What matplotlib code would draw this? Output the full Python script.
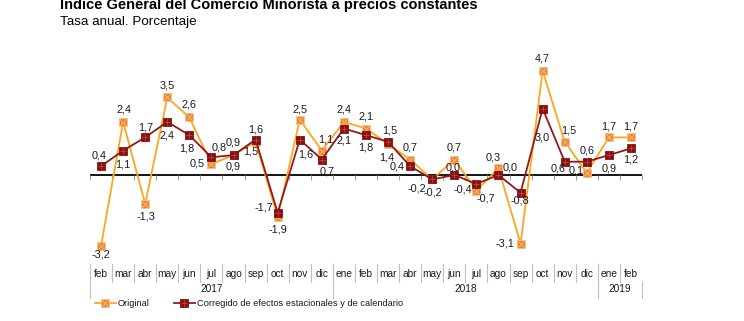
import matplotlib
matplotlib.use("Agg")
import matplotlib.pyplot as plt
from matplotlib.legend_handler import HandlerTuple
import numpy as np

plt.rcParams['font.family'] = ['Liberation Sans', 'DejaVu Sans']

months = ['feb', 'mar', 'abr', 'may', 'jun', 'jul', 'ago', 'sep', 'oct', 'nov', 'dic',
          'ene', 'feb', 'mar', 'abr', 'may', 'jun', 'jul', 'ago', 'sep', 'oct', 'nov', 'dic',
          'ene', 'feb']
years = ['2017', '2018', '2019']
year_counts = [11, 12, 2]

original = [-3.2, 2.4, -1.3, 3.5, 2.6, 0.5, 0.9, 1.5, -1.9, 2.5, 1.1,
            2.4, 2.1, 1.4, 0.7, -0.2, 0.7, -0.7, 0.3, -3.1, 4.7, 1.5, 0.1,
            1.7, 1.7]
corregido = [0.4, 1.1, 1.7, 2.4, 1.8, 0.8, 0.9, 1.6, -1.7, 1.6, 0.7,
             2.1, 1.8, 1.5, 0.4, -0.2, 0.0, -0.4, 0.0, -0.8, 3.0, 0.6, 0.6,
             0.9, 1.2]

# label offsets in pixels (dx, dy) ; dy positive = downward
off_orig = [(0, 9), (1, -12), (1, 13), (0, -12), (0, -13), (-14, 0), (0, 11), (-5, 10),
            (0, 12), (0, -10), (4, -11),
            (0, -12), (0, -12), (-1, 13), (0, -12), (-15, 9), (0, -12), (9, 8), (-5, -11),
            (-16, 0), (0, -12), (4, -11), (-11, -2),
            (0, -11), (0, -11)]
off_corr = [(-2, -11), (0, 14), (1, -10), (0, 14), (-3, 13), (8, -10), (0, -13), (0, -10),
            (-14, -5), (6, 15), (5, 12),
            (0, 12), (0, 12), (2, -11), (-13, 0), (1, 13), (-1, -8), (-14, 6), (12, -8),
            (-1, 8), (0, 29), (-7, 7), (0, -11),
            (0, 13), (0, 11)]

C_OR_LINE = '#FFA51F'
C_OR_MARK = '#F0862A'
C_OR_X = '#F6C08A'
C_DR_LINE = '#8E1B1B'
C_DR_MARK = '#8A1010'
C_DR_X = '#B24A4A'

W, H = 744, 321
fig = plt.figure(figsize=(W / 100, H / 100), dpi=100)
ax_left, ax_right = 90 / W, 642 / W
ax_top_px, ax_bot_px = 53.2, 263.6
ax = fig.add_axes([ax_left, 1 - ax_bot_px / H, ax_right - ax_left, (ax_bot_px - ax_top_px) / H])

x = np.arange(len(months))
ax.set_xlim(-0.5, len(months) - 0.5)
ax.set_ylim(-4.0, 5.5)
for s in ax.spines.values():
    s.set_visible(False)
ax.set_xticks([])
ax.set_yticks([])

ax.axhline(0, color='black', lw=1.3, zorder=1)
bounds = np.arange(len(months) + 1) - 0.5
ax.plot(bounds, np.zeros_like(bounds), linestyle='none', marker=3, markersize=3.5,
        markeredgecolor='#A0A0A0', markeredgewidth=0.8, zorder=1)

l1, = ax.plot(x, original, color=C_OR_LINE, lw=1.3, marker='s', markersize=6,
              markerfacecolor=C_OR_MARK, markeredgecolor=C_OR_X, markeredgewidth=0.6, zorder=3)
x1, = ax.plot(x, original, linestyle='none', marker='x', markersize=4,
              markeredgecolor=C_OR_X, markeredgewidth=0.6, zorder=4)
l2, = ax.plot(x, corregido, color=C_DR_LINE, lw=1.3, marker='s', markersize=6,
              markerfacecolor=C_DR_MARK, markeredgecolor=C_DR_MARK, markeredgewidth=0.6, zorder=5)
x2, = ax.plot(x, corregido, linestyle='none', marker='+', markersize=4.5,
              markeredgecolor=C_DR_X, markeredgewidth=0.6, zorder=6)

def fmt(v):
    return ('%.1f' % v).replace('.', ',')

px2pt = 0.72
for xi, v, (dx, dy) in zip(x, original, off_orig):
    ax.annotate(fmt(v), (xi, v), xytext=(dx * px2pt, -dy * px2pt), textcoords='offset points',
                ha='center', va='center', fontsize=7.8, color='#1a1a1a', zorder=7)
for xi, v, (dx, dy) in zip(x, corregido, off_corr):
    ax.annotate(fmt(v), (xi, v), xytext=(dx * px2pt, -dy * px2pt), textcoords='offset points',
                ha='center', va='center', fontsize=7.8, color='#1a1a1a', zorder=7)

# category axis
axh = ax_bot_px - ax_top_px
def ay(py):
    return (ax_bot_px - py) / axh

tr = ax.get_xaxis_transform()
for xi, m in zip(x, months):
    ax.text(xi, ay(274), m, transform=tr, ha='center', va='center', fontsize=7.3,
            color='#1a1a1a', clip_on=False)
for b in bounds[1:-1]:
    ax.plot([b, b], [ay(264), ay(282)], transform=tr, color='#C0C0C0', lw=0.8, clip_on=False)
start = 0
for yr, n in zip(years, year_counts):
    lo = start - 0.5
    hi = start + n - 0.5
    ax.plot([lo, lo], [ay(264), ay(298)], transform=tr, color='#C0C0C0', lw=0.8, clip_on=False)
    ax.text((lo + hi) / 2, ay(288.5), yr, transform=tr, ha='center', va='center', fontsize=7.3,
            color='#1a1a1a', clip_on=False)
    start += n
ax.plot([bounds[-1], bounds[-1]], [ay(282), ay(298)], transform=tr, color='#C0C0C0', lw=0.8,
        clip_on=False)

leg = fig.legend([(l1, x1), (l2, x2)],
                 ['Original', 'Corregido de efectos estacionales y de calendario'],
                 handler_map={tuple: HandlerTuple(ndivide=1)},
                 loc='center left', bbox_to_anchor=(95 / W, 1 - 304 / H), ncol=2,
                 frameon=False, fontsize=6.7, handlelength=2.25, handletextpad=0.2,
                 columnspacing=2.6, borderaxespad=0, borderpad=0)
for t in leg.get_texts():
    t.set_color('#1a1a1a')

fig.text(60 / W, 1 - 9.5 / H, 'Indice General del Comercio Minorista a precios constantes',
         fontsize=10.5, fontweight='bold', ha='left', va='baseline', color='black')
fig.text(60 / W, 1 - 25 / H, 'Tasa anual. Porcentaje', fontsize=9.6, ha='left',
         va='baseline', color='black')

fig.savefig('out.png', dpi=100)
